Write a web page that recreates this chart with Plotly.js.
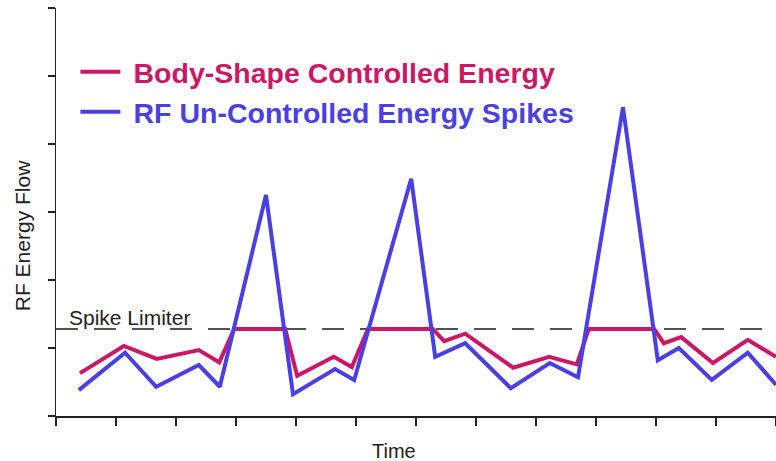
<!DOCTYPE html>
<html>
<head>
<meta charset="utf-8">
<script src="https://cdn.plot.ly/plotly-3.0.1.min.js"></script>
<style>html,body{margin:0;padding:0;background:#fff;}#chart{width:776px;height:461px;}</style>
</head>
<body>
<div id="chart"></div>
<script>
// Time positions (tick units) and energy values (tick units)
var controlledTime = [0.40, 1.13, 1.68, 2.38, 2.72, 2.97, 3.82, 4.02, 4.63, 4.93, 5.20, 6.28, 6.47, 6.82, 7.62, 8.22, 8.68, 8.88, 9.97, 10.13, 10.42, 10.95, 11.53, 12.0];
var controlledEnergy = [0.63, 1.03, 0.84, 0.97, 0.79, 1.28, 1.28, 0.59, 0.87, 0.72, 1.28, 1.28, 1.10, 1.21, 0.71, 0.87, 0.76, 1.28, 1.28, 1.07, 1.16, 0.78, 1.12, 0.87];
var spikeTime = [0.38, 1.15, 1.67, 2.38, 2.73, 3.50, 3.95, 4.65, 4.97, 5.92, 6.32, 6.82, 7.58, 8.23, 8.70, 9.45, 10.03, 10.38, 10.93, 11.53, 12.0];
var spikeEnergy = [0.38, 0.93, 0.43, 0.75, 0.43, 3.25, 0.32, 0.69, 0.53, 3.49, 0.87, 1.07, 0.41, 0.78, 0.57, 4.54, 0.82, 1.00, 0.53, 0.93, 0.46];
var limiterTime = [0, 12];
var limiterLevel = [1.28, 1.28];
var seriesNames = ["Body-Shape Controlled Energy", "RF Un-Controlled Energy Spikes"];
var labels = {limiter: "Spike Limiter", x: "Time", y: "RF Energy Flow"};

var RED = "#cc1766", BLUE = "#4a3fe4";
var FONT = "Liberation Sans, Arial, Helvetica, sans-serif";

var traces = [
  {x: limiterTime, y: limiterLevel, mode: "lines", showlegend: false, hoverinfo: "skip",
   line: {color: "#1a1a1a", width: 1.5, dash: "22px,16px"}},
  {x: controlledTime, y: controlledEnergy, mode: "lines", name: "\u2009\u200a<b><span style=\"color:" + RED + "\">" + seriesNames[0] + "</span></b>",
   line: {color: RED, width: 4}},
  {x: spikeTime, y: spikeEnergy, mode: "lines", name: "\u2009\u200a<b><span style=\"color:" + BLUE + "\">" + seriesNames[1] + "</span></b>",
   line: {color: BLUE, width: 4}}
];

var axisCommon = {showgrid: false, zeroline: false, showticklabels: false, showline: true,
  linecolor: "#222", linewidth: 1.5, ticks: "outside", tickcolor: "#222", tickwidth: 1.5, dtick: 1, tick0: 0, fixedrange: true};

var layout = {
  width: 776, height: 461,
  margin: {l: 56, r: 0, t: 8, b: 45, pad: 0},
  paper_bgcolor: "#fff", plot_bgcolor: "#fff",
  font: {family: FONT, color: "#222"},
  xaxis: Object.assign({}, axisCommon, {range: [0, 12], ticklen: 8}),
  yaxis: Object.assign({}, axisCommon, {range: [0, 6], ticklen: 7}),
  showlegend: true,
  legend: {x: 0.027, y: 0.905, xanchor: "left", yanchor: "top", bgcolor: "rgba(0,0,0,0)", itemwidth: 40,
    font: {family: FONT, size: 28.5}, traceorder: "normal", itemclick: false, itemdoubleclick: false},
  annotations: [
    {text: labels.limiter, xref: "x", yref: "y", x: 0.18, y: limiterLevel[0], xanchor: "left", yanchor: "bottom",
     showarrow: false, font: {family: FONT, size: 21, color: "#222"}, yshift: -2},
    {text: labels.x, xref: "paper", yref: "paper", x: 0.47, y: -0.086, xanchor: "center", yanchor: "middle",
     showarrow: false, font: {family: FONT, size: 20, color: "#222"}},
    {text: labels.y, xref: "paper", yref: "paper", x: -0.047, y: 0.441, xanchor: "center", yanchor: "middle",
     textangle: -90, showarrow: false, font: {family: FONT, size: 21, color: "#222"}}
  ]
};

Plotly.newPlot("chart", traces, layout, {staticPlot: true, displayModeBar: false});
</script>
</body>
</html>
